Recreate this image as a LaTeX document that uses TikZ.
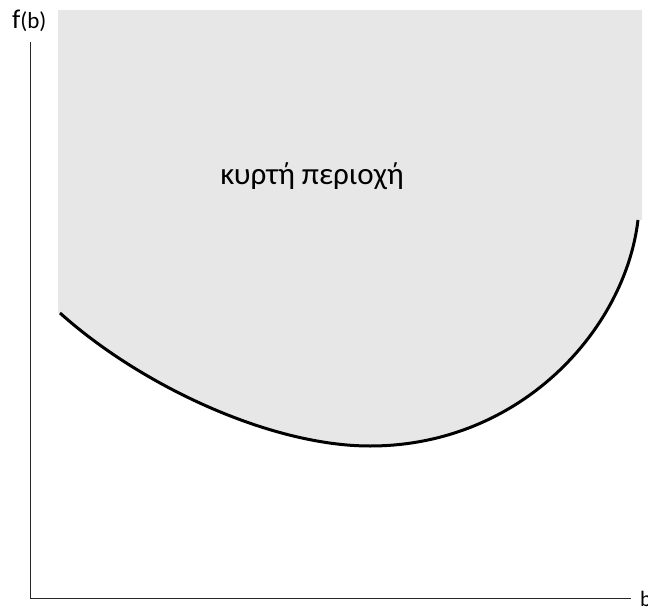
\documentclass[tikz,border=0pt]{standalone}
\usepackage{fontspec}
\setmainfont{Carlito}
\begin{document}
\begin{tikzpicture}[x=1pt,y=-1pt,
  axis/.style={draw=black!85, line width=1pt},
  curve/.style={draw=black, line width=3pt},
  region/.style={fill=black!9.5},
  lbl/.style={inner sep=0pt, text=black}]
\useasboundingbox (0,0) rectangle (648,607);
\coordinate (c0) at (60,313);
\coordinate (cm) at (370,446);
\coordinate (c1) at (638,220);
\fill[region] (58,10) -- (642,10) -- (642,220) -- (c1)
  .. controls (625,330) and (520,446) .. (cm)
  .. controls (270,446) and (140,385) .. (c0) -- (58,313) -- cycle;
\draw[curve] (c0) .. controls (140,385) and (270,446) .. (cm)
  .. controls (520,446) and (625,330) .. (c1);
\coordinate (o) at (30,598);
\coordinate (ytop) at (30,42);
\coordinate (xend) at (631,598);
\draw[axis] (ytop) -- (o) -- (xend);
\node[lbl, anchor=base west] (fl) at (12,29) {\fontsize{27}{27}\selectfont f\fontsize{23}{23}\selectfont(b)};
\node[lbl, anchor=base west] (bl) at (640,606) {\fontsize{22}{22}\selectfont b};
\node[lbl, anchor=base] (reg) at (312,184) {\fontsize{31}{31}\selectfont κυρτή περιοχή};
\end{tikzpicture}
\end{document}
